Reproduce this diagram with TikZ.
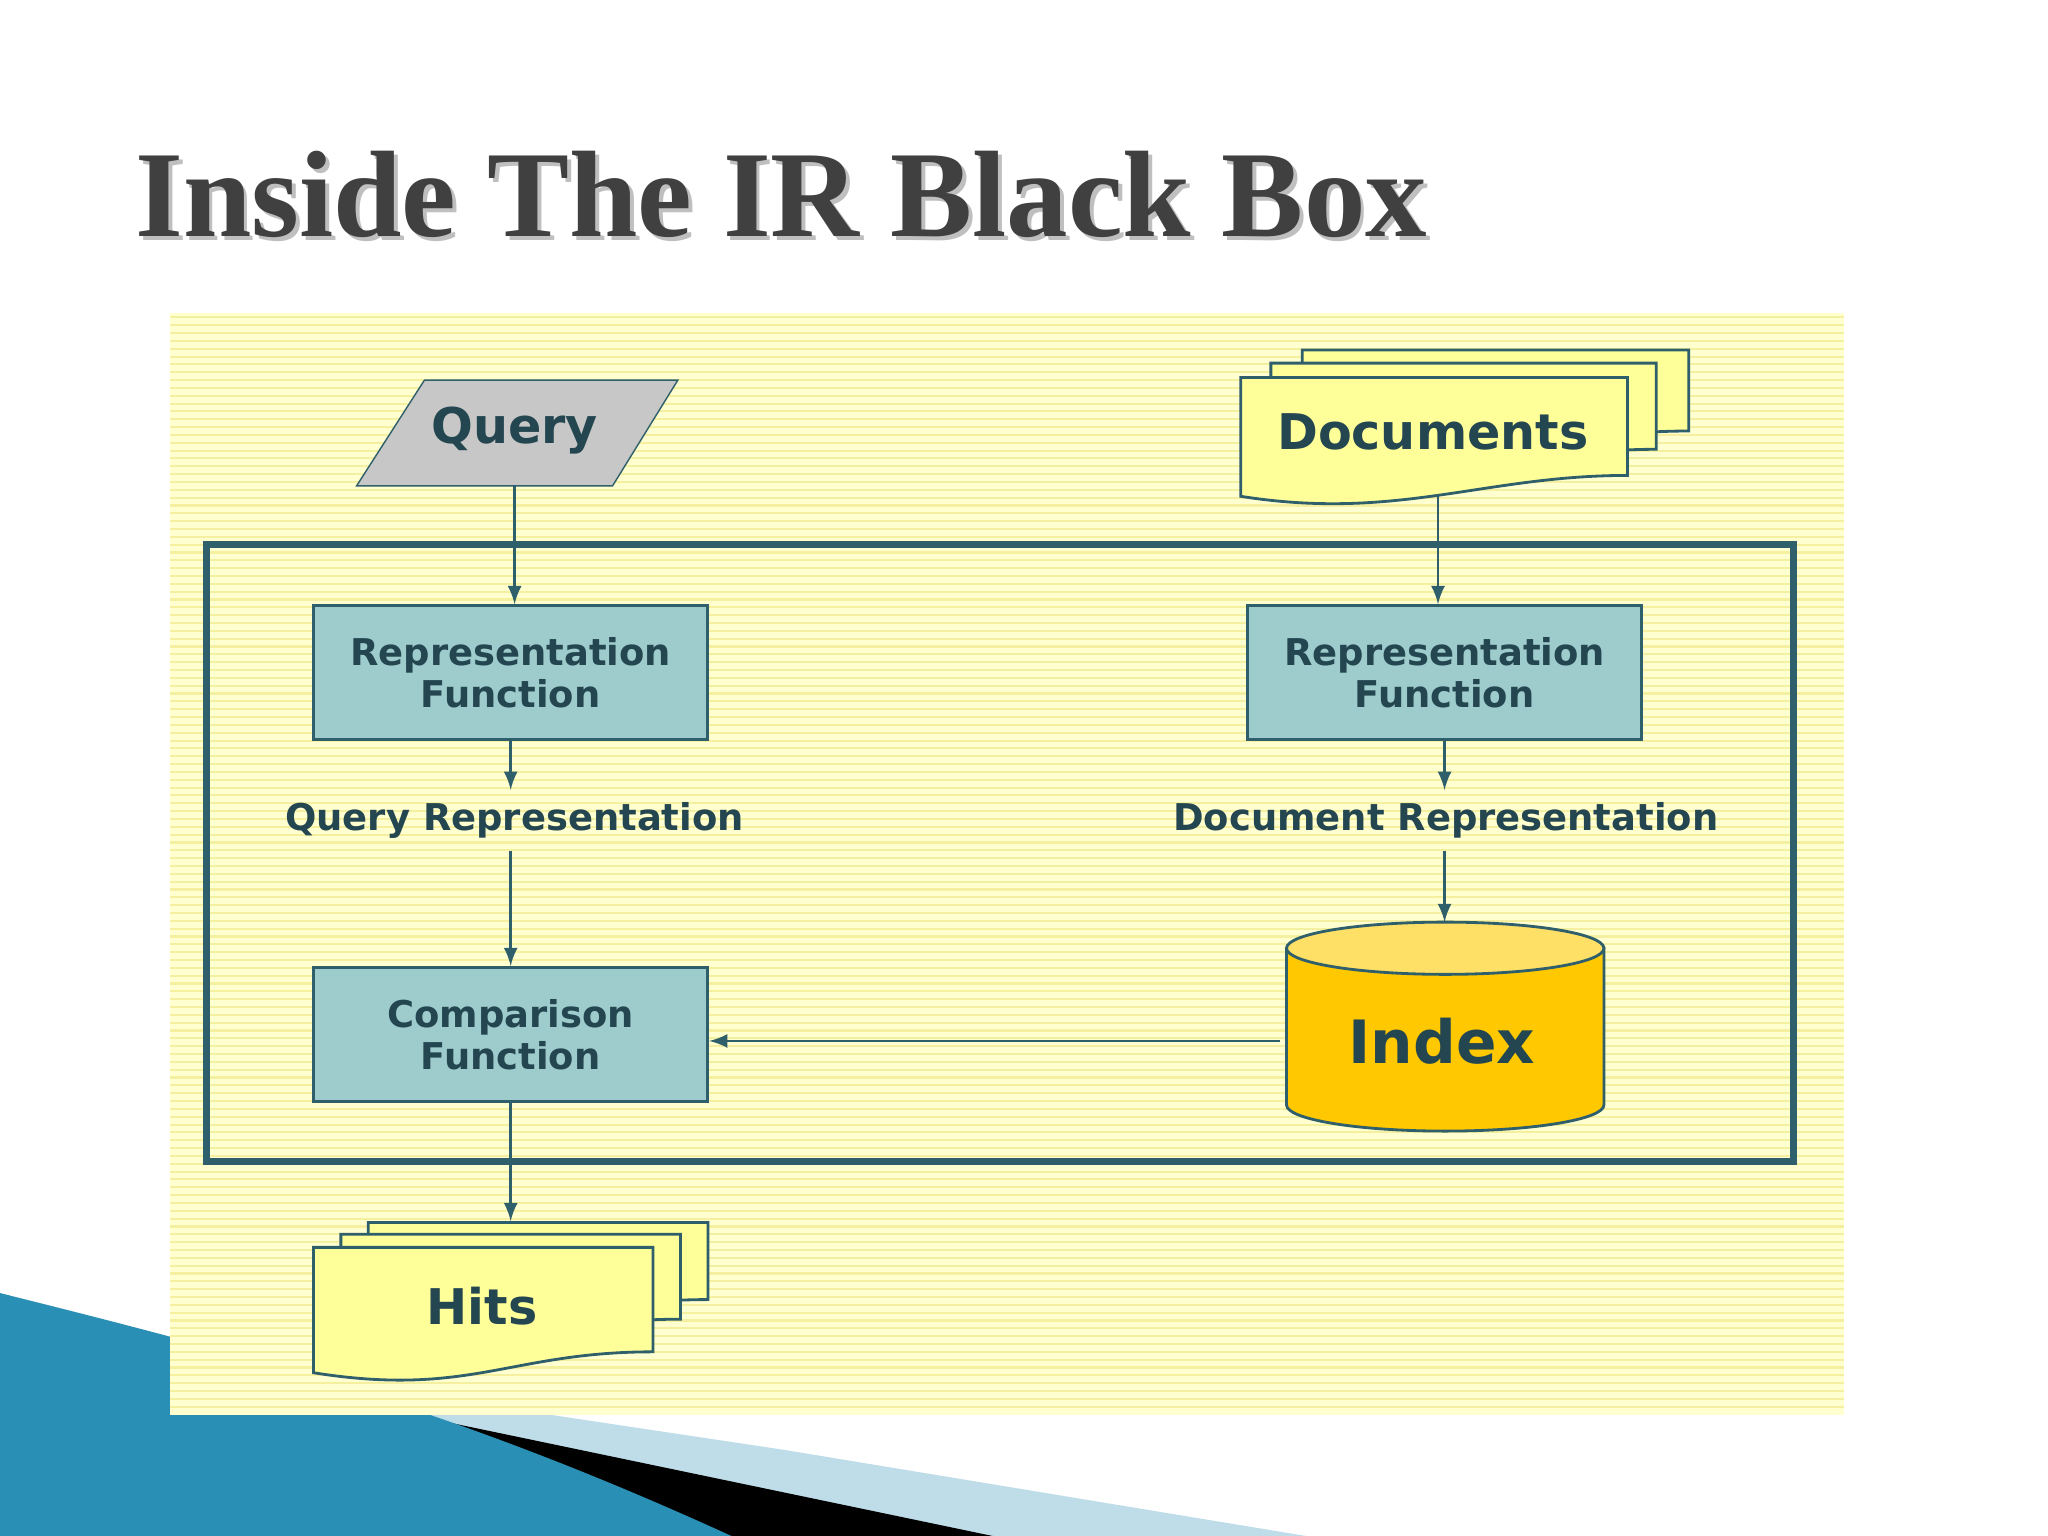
\documentclass[tikz,border=0pt]{standalone}
\usepackage{fontspec}
\setmainfont{DejaVu Sans}
\newfontfamily\titlefont{Liberation Serif}
\usetikzlibrary{positioning,shapes.geometric,calc}
\definecolor{boxteal}{HTML}{9ECBCB}
\definecolor{edgeteal}{HTML}{2F5F6A}
\definecolor{txtteal}{HTML}{244650}
\definecolor{paper}{HTML}{FFFFD0}
\definecolor{stripe}{HTML}{F4F0A0}
\definecolor{pageyel}{HTML}{FFFF99}
\definecolor{idxgold}{HTML}{FFC800}
\definecolor{idxtop}{HTML}{FFE066}
\definecolor{swoosh}{HTML}{2A8FB5}
\tikzset{
  func/.style={draw=edgeteal,fill=boxteal,thick,minimum width=3.94cm,minimum height=1.34cm,
    align=center,font=\bfseries\fontsize{10.5}{12}\selectfont,text=txtteal},
  lbl/.style={font=\bfseries\fontsize{10.5}{12}\selectfont,text=txtteal},
  flow/.style={draw=edgeteal,thick,-latex},
  page/.style={draw=edgeteal,fill=pageyel,thick}
}
% wavy document page: x1,y1,x2,y2
\newcommand{\docpage}[4]{%
  \draw[page] (#1,#2) -- (#3,#2) -- (#3,#4-20) .. controls ($(#3,#4-20)+(-110,0)$) and ($(#1,#4)+(120,15)$) .. (#1,#4-4) -- cycle;}
\begin{document}
\begin{tikzpicture}[x=0.01306cm,y=-0.01306cm]
\useasboundingbox (0,0) rectangle (1568,1176);
\fill[white] (0,0) rectangle (1568,1176);
% bottom corner swoosh
\fill[swoosh!30] (0,1176) -- (0,1020) -- (600,1110) -- (1000,1176) -- cycle;
\fill[black] (0,1000) -- (300,1080) -- (760,1176) -- (560,1176) -- (0,1060) -- cycle;
\fill[swoosh] (0,990) .. controls (200,1040) and (350,1080) .. (560,1176) -- (0,1176) -- cycle;
% title
\node[font=\titlefont\bfseries\fontsize{35}{40}\selectfont,text=black!25,anchor=west] at (97,152) {Inside The IR Black Box};
\node[font=\titlefont\bfseries\fontsize{35}{40}\selectfont,text=black!75,anchor=west] (title) at (94,149) {Inside The IR Black Box};
% striped panel
\fill[paper] (130,240) rectangle (1412,1083);
\foreach \y in {243,249,...,1080} \draw[stripe,line width=0.6pt] (130,\y) -- (1412,\y);
\draw[edgeteal,line width=2pt] (158,417) rectangle (1373,889);
% query
\draw[draw=edgeteal,fill=black!22] (273,372) -- (325,291) -- (519,291) -- (469,372) -- cycle;
\node[font=\bfseries\fontsize{14}{16}\selectfont,text=txtteal] (query) at (394,330) {Query};
\coordinate (querybot) at (394,372);
% documents
\docpage{997}{268}{1293}{350}
\docpage{973}{278}{1268}{364}
\docpage{950}{289}{1246}{384}
\node[font=\bfseries\fontsize{14}{16}\selectfont,text=txtteal] (docs) at (1097,331) {Documents};
\coordinate (docsbot) at (1101,380);
% functions
\node[func] (qrep) at (391,515) {Representation\\Function};
\node[func] (drep) at (1106,515) {Representation\\Function};
\node[lbl] (qr) at (394,628) {Query Representation};
\node[lbl] (dr) at (1107,628) {Document Representation};
\node[func] (comp) at (391,792) {Comparison\\Function};
% index cylinder
\draw[fill=idxgold,draw=edgeteal,thick] (985,726) -- (985,846) arc[start angle=180,end angle=0,x radius=121.5,y radius=20] -- (1228,726) -- cycle;
\draw[fill=idxtop,draw=edgeteal,thick] (1106.5,726) ellipse[x radius=121.5,y radius=20];
\node[font=\bfseries\fontsize{17}{20}\selectfont,text=txtteal] (index) at (1104,797) {Index};
\coordinate (idxtopc) at (1106,706);
\coordinate (idxleft) at (980,797);
% hits
\docpage{282}{936}{542}{1015}
\docpage{261}{945}{521}{1030}
\docpage{240}{955}{500}{1055}
\node[font=\bfseries\fontsize{14}{16}\selectfont,text=txtteal] (hits) at (369,1000) {Hits};
\coordinate (hitstop) at (391,935);
% connectors
\draw[flow] (querybot) -- (querybot |- qrep.north);
\draw[flow] (docsbot) -- (drep.north west -| docsbot);
\draw[flow] (qrep.south) -- (qr.north -| qrep.south);
\draw[flow] (drep.south) -- (dr.north -| drep.south);
\draw[flow] (qr.south -| comp.north) -- (comp.north);
\draw[flow] (dr.south -| idxtopc) -- (idxtopc);
\draw[flow] (idxleft) -- (comp.east |- idxleft);
\draw[flow] (comp.south) -- (hitstop);
\end{tikzpicture}
\end{document}
